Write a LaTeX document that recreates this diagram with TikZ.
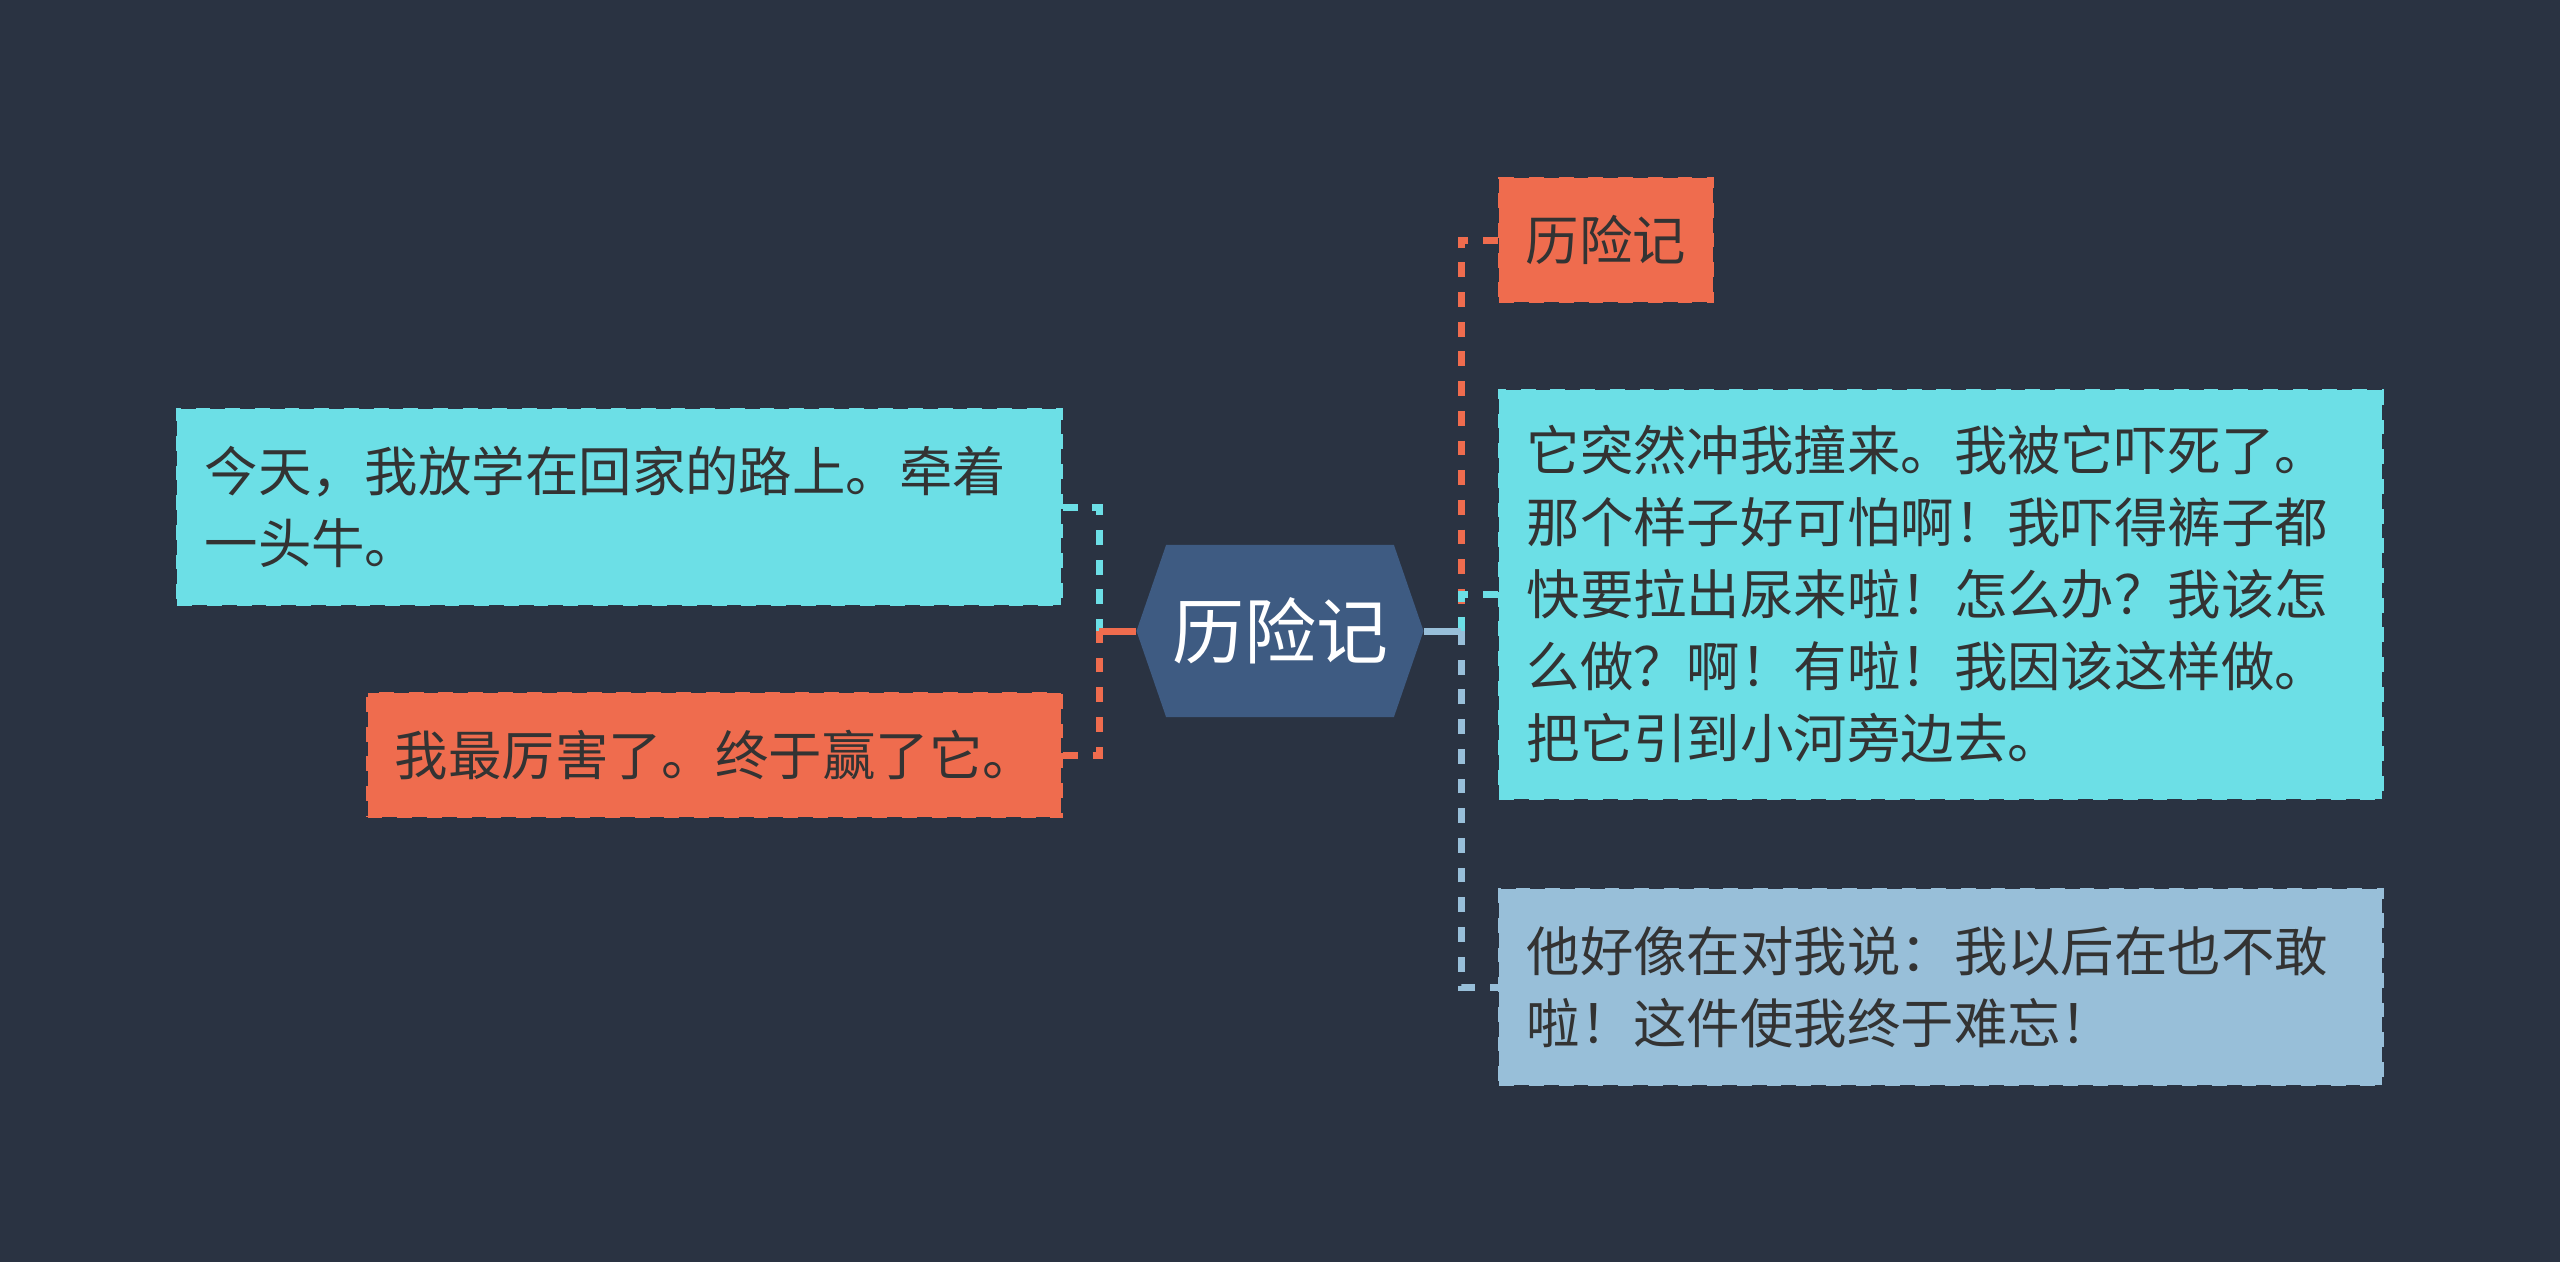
\documentclass[tikz,border=0pt]{standalone}
\usepackage{fontspec}
\setmainfont{Noto Sans CJK SC}
\usetikzlibrary{shapes.symbols}
\definecolor{bgdark}{HTML}{2A3342}
\definecolor{topiccyan}{HTML}{6CDFE6}
\definecolor{topicred}{HTML}{EF6C4E}
\definecolor{topicblue}{HTML}{98BFD9}
\definecolor{rootblue}{HTML}{3E5B82}
\definecolor{inkdark}{HTML}{333333}
\tikzset{
  topic/.style = {rectangle, fill=#1, draw=#1, line width=0.075cm,
                  dash pattern=on 0.371cm off 0.371cm, text=inkdark,
                  inner xsep=0.66cm, inner ysep=0pt, align=left,
                  font=\fontsize{38}{51.2}\selectfont},
  root/.style = {signal, signal to=west and east, signal pointer angle=142,
                 fill=rootblue, text=white, inner sep=0pt,
                 minimum width=7.175cm, minimum height=4.3cm,
                 font=\fontsize{51.2}{60}\selectfont},
  link/.style = {color=#1, line width=0.175cm,
                 dash pattern=on 0.371cm off 0.371cm},
  stub/.style = {color=#1, line width=0.175cm}
}
\lineskiplimit=-100pt

\begin{document}
\begin{tikzpicture}[x=0.025cm, y=-0.025cm]
	\def \hubL{1099}
	\def \hubR{1461}
	\def \midY{631}

	\fill[bgdark] (0,0) rectangle (2560,1262);

	% Root
	\node[root] (hexa) at (1280,\midY) {\hspace{0.03cm}历险记};

	% Left topics
	\node[topic=topiccyan, anchor=center, minimum width=22.09cm, minimum height=4.875cm, text width=20.73cm]
		(today) at (619.3,507) {今天，我放学在回家的路上。牵着\\一头牛。};
	\node[topic=topicred, anchor=center, minimum width=17.34cm, minimum height=3.075cm, text width=15.98cm]
		(winner) at (714.5,755) {我最厉害了。终于赢了它。};

	% Right topics
	\node[topic=topicred, anchor=center, minimum width=5.325cm, minimum height=3.075cm, text width=4.005cm]
		(title) at (1606,240) {历险记};
	\node[topic=topiccyan, anchor=center, minimum width=22.065cm, minimum height=10.2cm, text width=20.705cm]
		(scare) at (1940.8,594.5) {它突然冲我撞来。我被它吓死了。\\那个样子好可怕啊！我吓得裤子都\\快要拉出尿来啦！怎么办？我该怎\\么做？啊！有啦！我因该这样做。\\把它引到小河旁边去。};
	\node[topic=topicblue, anchor=center, minimum width=22.065cm, minimum height=4.875cm, text width=20.705cm]
		(saying) at (1940.8,987) {他好像在对我说：我以后在也不敢\\啦！这件使我终于难忘！};

	% Hubs
	\coordinate (hubleft) at (\hubL,\midY);
	\coordinate (hubright) at (\hubR,\midY);

	% Left links
	\draw[link=topiccyan] (today.east) -| (hubleft);
	\draw[link=topicred] (winner.east) -| (hubleft);
	\draw[stub=topicred] (hexa.west) -- (hubleft);

	% Right links
	\draw[link=topicred] (title.west) -| (hubright);
	\draw[link=topiccyan] (scare.west) -| (hubright);
	\draw[link=topicblue, dash phase=0.175cm] (saying.west) -| (hubright);
	\draw[stub=topicblue] (hexa.east) -- (hubright);
\end{tikzpicture}
\end{document}
